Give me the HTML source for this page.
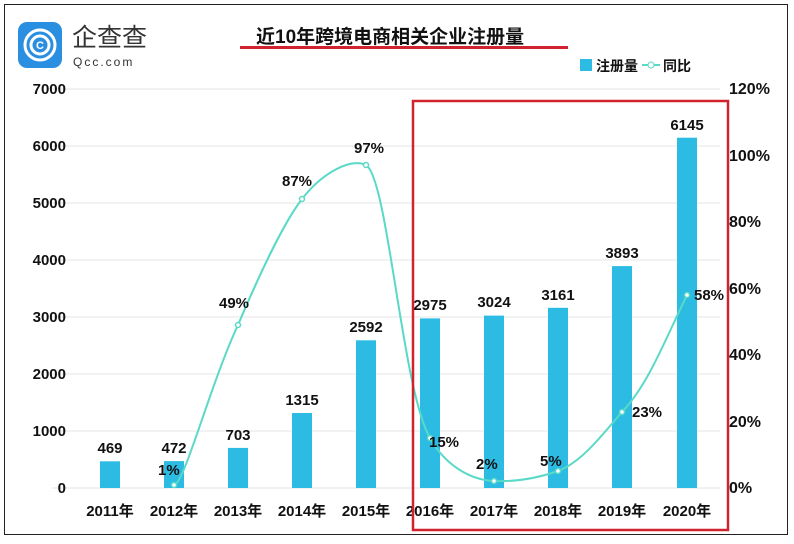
<!DOCTYPE html>
<html><head><meta charset="utf-8"><style>
body{margin:0;background:#fff;}
svg text{font-family:"Liberation Sans","Noto Sans CJK SC",sans-serif;font-weight:bold;fill:#111;}
</style></head><body>
<svg width="794" height="539" viewBox="0 0 794 539" xmlns="http://www.w3.org/2000/svg">
<rect x="0" y="0" width="794" height="539" fill="#fff"/>
<rect x="4.5" y="4.5" width="783" height="530" fill="none" stroke="#222" stroke-width="1"/>
<!-- logo -->
<rect x="18" y="22" width="44" height="46" rx="9" fill="#2a8fe0"/>
<circle cx="40" cy="45" r="15" fill="none" stroke="#fff" stroke-width="3"/>
<circle cx="40" cy="45" r="9" fill="none" stroke="#fff" stroke-width="3"/>
<text x="40" y="49" font-size="11" text-anchor="middle" style="fill:#fff">C</text>
<text x="72" y="46" font-size="25" style="font-weight:normal;fill:#333">企查查</text>
<text x="73" y="66" font-size="12" letter-spacing="2" style="font-weight:normal;fill:#333">Qcc.com</text>
<!-- title -->
<text x="256" y="43" font-size="19">近10年跨境电商相关企业注册量</text>
<line x1="240" y1="47.5" x2="568" y2="47.5" stroke="#d0232e" stroke-width="3"/>
<!-- legend -->
<rect x="580" y="59" width="12" height="12" fill="#2bbbe3"/>
<text x="596" y="71" font-size="14">注册量</text>
<line x1="642" y1="65" x2="660" y2="65" stroke="#5ad9c6" stroke-width="2"/>
<circle cx="651" cy="65" r="3" fill="#fff" stroke="#5ad9c6"/>
<text x="663" y="71" font-size="14">同比</text>
<!-- grid -->
<g stroke="#e6e6e6" stroke-width="1">
<line x1="52" y1="89" x2="720" y2="89"/><line x1="52" y1="146" x2="720" y2="146"/>
<line x1="52" y1="203" x2="720" y2="203"/><line x1="52" y1="260" x2="720" y2="260"/>
<line x1="52" y1="317" x2="720" y2="317"/><line x1="52" y1="374" x2="720" y2="374"/>
<line x1="52" y1="431" x2="720" y2="431"/><line x1="52" y1="488" x2="720" y2="488"/>
</g>
<g font-size="15" text-anchor="end">
<text x="66" y="94">7000</text><text x="66" y="151">6000</text><text x="66" y="208">5000</text>
<text x="66" y="265">4000</text><text x="66" y="322">3000</text><text x="66" y="379">2000</text>
<text x="66" y="436">1000</text><text x="66" y="493">0</text>
</g>
<g font-size="16">
<text x="729" y="94">120%</text><text x="729" y="161">100%</text><text x="729" y="227">80%</text>
<text x="729" y="294">60%</text><text x="729" y="360">40%</text><text x="729" y="427">20%</text>
<text x="729" y="493">0%</text>
</g>
<!-- bars -->
<g fill="#2bbbe3">
<rect x="100" y="461.3" width="20" height="26.7"/>
<rect x="164" y="461.1" width="20" height="26.9"/>
<rect x="228" y="447.9" width="20" height="40.1"/>
<rect x="292" y="413.0" width="20" height="75.0"/>
<rect x="356" y="340.3" width="20" height="147.7"/>
<rect x="420" y="318.4" width="20" height="169.6"/>
<rect x="484" y="315.6" width="20" height="172.4"/>
<rect x="548" y="307.8" width="20" height="180.2"/>
<rect x="612" y="266.1" width="20" height="221.9"/>
<rect x="677" y="137.7" width="20" height="350.3"/>
</g>
<g font-size="15" text-anchor="middle">
<text x="110" y="453">469</text><text x="174" y="453">472</text><text x="238" y="440">703</text>
<text x="302" y="405">1315</text><text x="366" y="332">2592</text><text x="430" y="310">2975</text>
<text x="494" y="307">3024</text><text x="558" y="300">3161</text><text x="622" y="258">3893</text>
<text x="687" y="130">6145</text>
</g>
<!-- line -->
<path d="M174,485 C184,485 210,385 238,325 C258,278 282,225 302,199 C322,173 350,158 366,165 C388,178 402,390 430,438 C445,465 470,480 494,481 C518,482 538,478 558,471 C582,462 602,435 622,412 C648,385 665,340 687,295" fill="none" stroke="#5ad9c6" stroke-width="2"/>
<g fill="#fff" stroke="#5ad9c6" stroke-width="1.5">
<circle cx="174" cy="485" r="2.5"/><circle cx="238" cy="325" r="2.5"/><circle cx="302" cy="199" r="2.5"/>
<circle cx="366" cy="165" r="2.5"/><circle cx="430" cy="438" r="2.5"/><circle cx="494" cy="481" r="2.5"/>
<circle cx="558" cy="471" r="2.5"/><circle cx="622" cy="412" r="2.5"/><circle cx="687" cy="295" r="2.5"/>
</g>
<g font-size="15">
<text x="158" y="475">1%</text><text x="219" y="308">49%</text><text x="282" y="186">87%</text>
<text x="354" y="153">97%</text><text x="429" y="447">15%</text><text x="476" y="469">2%</text>
<text x="540" y="466">5%</text><text x="632" y="417">23%</text><text x="694" y="300">58%</text>
</g>
<g font-size="15" text-anchor="middle">
<text x="110" y="516">2011年</text><text x="174" y="516">2012年</text><text x="238" y="516">2013年</text>
<text x="302" y="516">2014年</text><text x="366" y="516">2015年</text><text x="430" y="516">2016年</text>
<text x="494" y="516">2017年</text><text x="558" y="516">2018年</text><text x="622" y="516">2019年</text>
<text x="687" y="516">2020年</text>
</g>
<rect x="413" y="101" width="315" height="429" fill="none" stroke="#d0232e" stroke-width="2.5"/>
</svg>
</body></html>
